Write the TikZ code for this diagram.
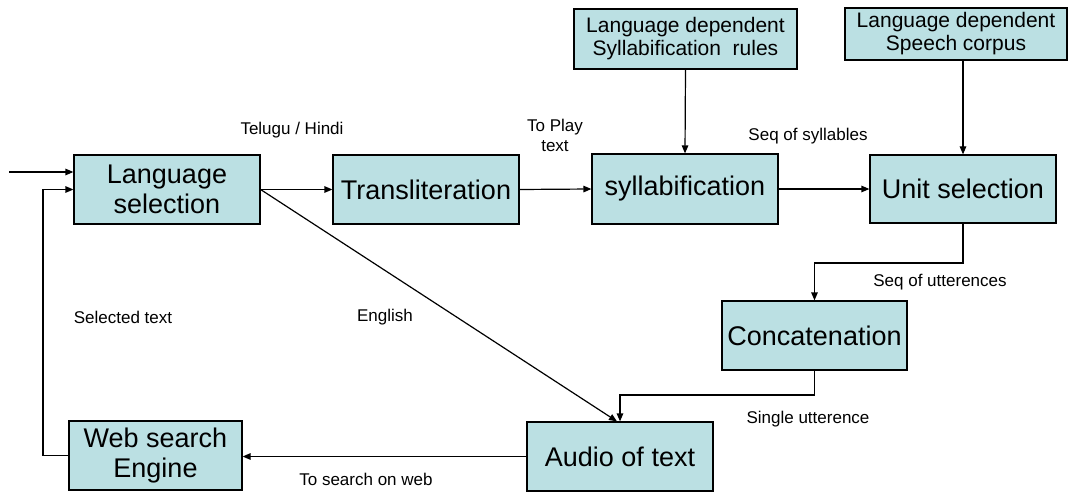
\documentclass[tikz,border=0pt]{standalone}
\usepackage{fontspec}
\setmainfont{Liberation Sans}
\usetikzlibrary{arrows.meta}
\definecolor{boxfill}{RGB}{187,224,227}
\tikzset{
  box/.style={draw=black, line width=1.2pt, fill=boxfill, inner sep=0pt, align=center,
    font=\fontsize{27}{30}\selectfont},
  topbox/.style={box, font=\fontsize{21}{23}\selectfont},
  lbl/.style={inner sep=0pt, align=center, font=\fontsize{17}{20}\selectfont},
  conn/.style={line width=1.2pt},
  arr/.style={conn, -{Triangle[length=8pt,width=6.5pt]}}
}
\begin{document}
\begin{tikzpicture}[x=1pt,y=-1pt]
\useasboundingbox (0,0) rectangle (1068,492);
\clip (0,0) rectangle (1068,492);
% boxes
\node[box, minimum width=186pt, minimum height=69pt] (ls) at (167,189.5) {Language\\selection};
\node[box, minimum width=186pt, minimum height=69pt] (tr) at (426,189.5) {Transliteration};
\node[box, minimum width=186pt, minimum height=70pt] (sy) at (685,189) {syllabification};
\node[box, minimum width=186pt, minimum height=68pt] (us) at (963,189) {Unit selection};
\node[topbox, minimum width=223pt, minimum height=60pt] (r1) at (685.5,39) {Language dependent\\Syllabification\ \ rules};
\node[topbox, minimum width=222pt, minimum height=52pt] (r2) at (956,34) {Language dependent\\Speech corpus};
\node[box, minimum width=185pt, minimum height=69pt] (cc) at (814.5,335.5) {Concatenation};
\node[box, minimum width=186pt, minimum height=69pt] (au) at (620,456.5) {Audio of text};
\node[box, minimum width=173pt, minimum height=69pt] (ws) at (155.5,455.5) {Web search\\Engine};
% labels
\node[lbl] (l1) at (292,130) {Telugu / Hindi};
\node[lbl] (l2) at (555,135) {To Play\\text};
\node[lbl] (l3) at (808,136) {Seq of syllables};
\node[lbl] (l4) at (940,282) {Seq of utterences};
\node[lbl] (l5) at (808,419) {Single utterence};
\node[lbl] (l6) at (123,317) {Selected text};
\node[lbl] (l7) at (385,317) {English};
\node[lbl] (l8) at (366,479) {To search on web};
% helper coordinates
\coordinate (in) at (9,172);
\coordinate (k1) at (963,263);
\coordinate (k2) at (814.5,395);
\coordinate (k3) at (43,455.5);
% connectors
\draw[arr] (in) -- (in -| ls.west);
\draw[arr] (ls.east) -- (tr.west);
\draw[arr] (tr.west -| tr.east) -- (sy.west);
\draw[arr] (sy.east) -- (us.west);
\draw[arr] (r1.south) -- (sy.north);
\draw[arr] (us.north |- r2.south) -- (us.north);
\draw[arr] (us.south) -- (k1) -| (cc.north);
\draw[arr] (cc.south) -- (k2) -| (au.north);
\draw[arr] (ls.east) -- ([xshift=-3pt]au.north);
\draw[arr] (au.west) -- (au.west -| ws.east);
\draw[arr] (ws.west) -- (k3) |- (ls.west);
\end{tikzpicture}
\end{document}
